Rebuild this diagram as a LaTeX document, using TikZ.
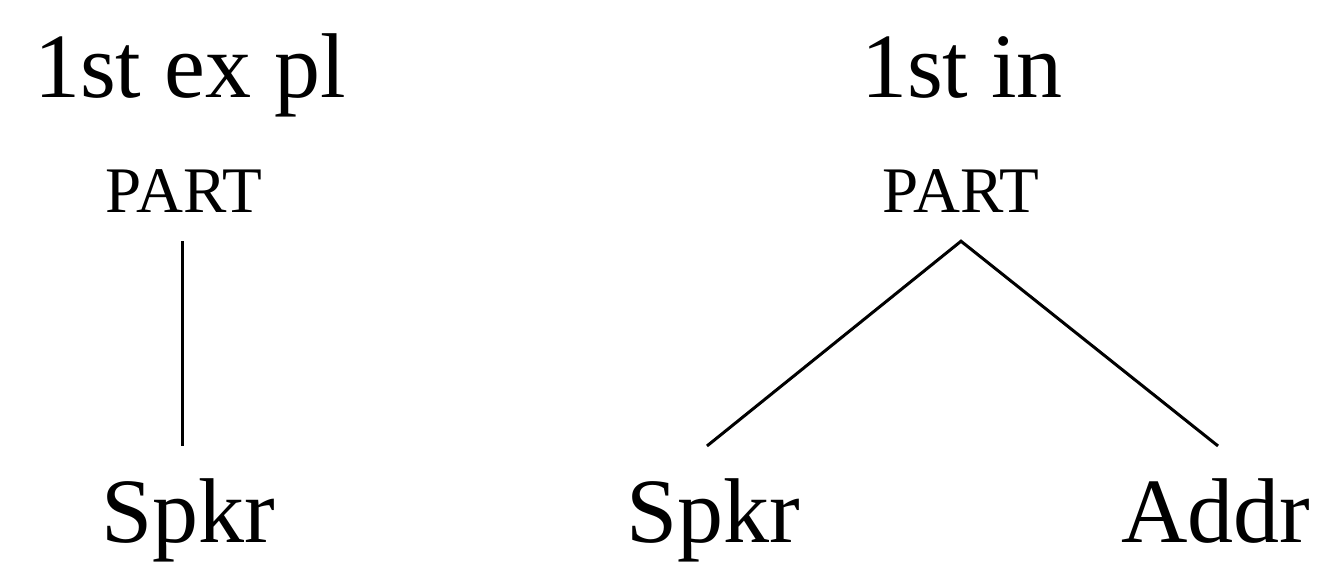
\documentclass[tikz,border=0pt]{standalone}
\usepackage{fontspec}
\setmainfont{Liberation Serif}
\begin{document}
\begin{tikzpicture}[x=1pt,y=-1pt,
  big/.style={anchor=base,inner xsep=0pt,font=\fontsize{92}{92}\selectfont},
  leaf/.style={big,inner ysep=32pt},
  cat/.style={anchor=base,inner xsep=0pt,inner ysep=29pt,font=\fontsize{65}{65}\selectfont},
  branch/.style={line width=3pt}]
\useasboundingbox (0,0) rectangle (1318,562);

% left tree: exclusive plural
\node[big] (t1) at (190,97) {1st ex pl};
\node[cat] (p1) at (184,212) {PART};
\node[leaf] (s1) at (188,542) {Spkr};
\draw[branch] ([xshift=-2pt]p1.south) -- ([xshift=-2pt]p1.south |- s1.north);

% right tree: inclusive
\node[big] (t2) at (962,97) {1st in};
\node[cat] (p2) at (961,212) {PART};
\node[leaf] (s2) at (713,542) {Spkr};
\node[leaf] (a2) at (1216,542) {Addr};
\draw[branch] ([xshift=-6pt]s2.north) -- (p2.south) -- ([xshift=2pt]a2.north);
\end{tikzpicture}
\end{document}
